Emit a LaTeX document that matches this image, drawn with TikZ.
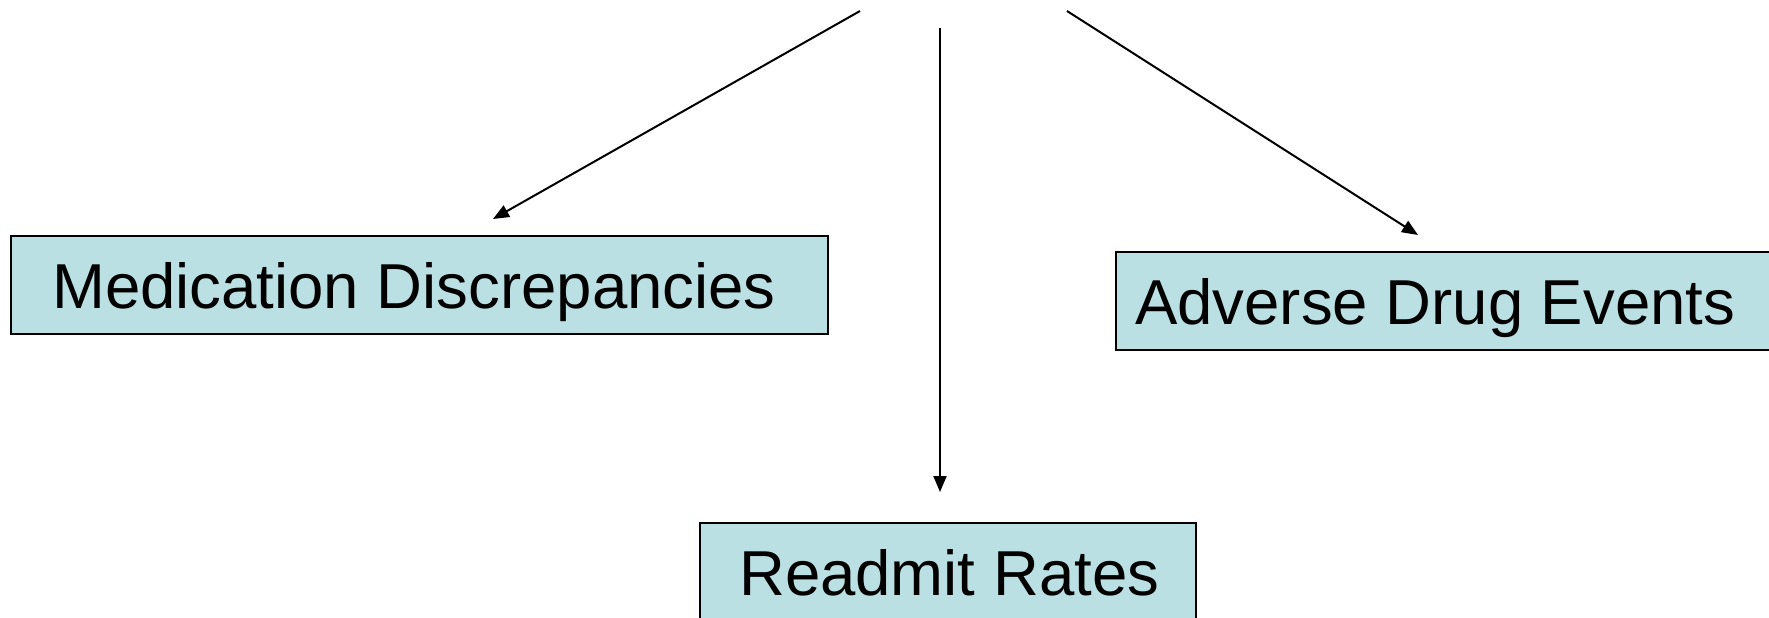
\documentclass[tikz,border=0pt]{standalone}
\usepackage{fontspec}
\setmainfont{Liberation Sans}
\usetikzlibrary{arrows.meta}
\definecolor{boxfill}{RGB}{187,224,227}
\tikzset{
  box/.style={draw=black, line width=2pt, fill=boxfill},
  lbl/.style={anchor=base west, inner sep=0pt, font=\fontsize{63.5}{70}\selectfont},
  conn/.style={line width=2pt, -{Triangle[length=16pt,width=13pt]}}
}
\begin{document}
\begin{tikzpicture}[x=1pt,y=-1pt]
\useasboundingbox (0,0) rectangle (1769,618);
% boxes
\draw[box] (11,236) rectangle (828,334);
\draw[box] (1116,252) rectangle (1790,350);
\draw[box] (700,523) rectangle (1196,640);
% texts
\node[lbl] (med) at (52,308) {Medication Discrepancies};
\node[lbl] (ade) at (1135,324) {Adverse Drug Events};
\node[lbl] (rr) at (739,595) {Readmit Rates};
% connectors
\coordinate (s1) at (860,11);
\coordinate (e1) at (493,219);
\coordinate (s2) at (940,28);
\coordinate (e2) at (940,492);
\coordinate (s3) at (1067,11);
\coordinate (e3) at (1418,235);
\draw[conn] (s1) -- (e1);
\draw[conn] (s2) -- (e2);
\draw[conn] (s3) -- (e3);
\end{tikzpicture}
\end{document}
